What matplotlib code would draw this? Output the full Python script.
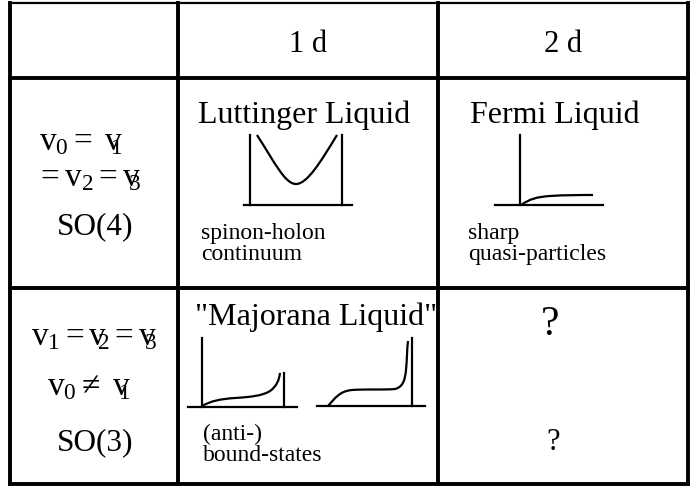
import matplotlib.pyplot as plt
from matplotlib.path import Path
from matplotlib.patches import PathPatch

plt.rcParams['font.family'] = ['Liberation Serif', 'DejaVu Serif']
plt.rcParams['mathtext.fontset'] = 'custom'
plt.rcParams['mathtext.rm'] = 'Liberation Serif'
plt.rcParams['mathtext.it'] = 'Liberation Serif:italic'

# table grid (pixel units)
col_edges = [10, 178, 438, 688]
row_edges = [3, 78, 288, 484]

col_heads = ['1 d', '2 d']
row_heads = [
    [r'$\mathrm{v}_0 = \ \mathrm{v}_{\!\!\!\!1}$', r'$= \mathrm{v}_2 = \mathrm{v}_{\!\!\!\!3}$', 'SO(4)'],
    [r'$\mathrm{v}_1 = \mathrm{v}_{\!\!\!2} = \mathrm{v}_{\!\!\!\!3}$', r'$\mathrm{v}_0 \neq\ \mathrm{v}_{\!\!\!\!1}$', 'SO(3)'],
]
cell_titles = ['Luttinger Liquid', 'Fermi Liquid', '"Majorana Liquid"', '?']
cell_notes = [['spinon-holon', 'continuum'], ['sharp', 'quasi-particles'],
              ['(anti-)', 'bound-states'], ['?']]

# sketches: axes (x0, x1, y) and curves as bezier control points
lutt_axes = [(244, 352, 205), (250, 135, 205), (342, 135, 205)]
lutt_curve = [(257, 135), (275, 163), (285, 184), (296, 184),
              (307, 184), (320, 163), (337, 135)]
fermi_axes = [(495, 603, 205), (520, 135, 205)]
fermi_curve = [(521, 205), (530, 199), (536, 197), (550, 196),
               (565, 195), (580, 195), (593, 195)]
maj1_axes = [(188, 297, 407), (202, 338, 407), (284, 373, 407)]
maj1_curve = [(202, 406), (211, 401), (220, 399), (235, 398),
              (250, 397), (262, 396), (270, 391),
              (277, 386), (279, 380), (280, 373)]
maj2_axes = [(317, 425, 406), (412, 338, 406)]
maj2_curve = [(328, 406), (335, 398), (340, 391), (352, 390),
              (365, 389), (385, 390), (395, 389),
              (403, 387), (405, 380), (406, 370),
              (407, 360), (407, 349), (408, 341)]

fig = plt.figure(figsize=(6.9, 4.87), dpi=100)
ax = fig.add_axes([0, 0, 1, 1])
ax.set_xlim(0, 690)
ax.set_ylim(487, 0)
ax.axis('off')

# grid
for x in col_edges:
    ax.plot([x, x], [row_edges[0], row_edges[-1]], 'k-', lw=2.8, solid_capstyle='projecting')
for i, y in enumerate(row_edges):
    ax.plot([col_edges[0], col_edges[-1]], [y, y], 'k-',
            lw=1.6 if i == 0 else 2.8, solid_capstyle='projecting')

# headers
ax.text(308, 45, col_heads[0], fontsize=22, ha='center', va='center')
ax.text(563, 45, col_heads[1], fontsize=22, ha='center', va='center')

# row labels
ax.text(81, 142, row_heads[0][0], fontsize=24, ha='center', va='center')
ax.text(89, 178, row_heads[0][1], fontsize=24, ha='center', va='center')
ax.text(95, 227, row_heads[0][2], fontsize=22.5, ha='center', va='center')
ax.text(94, 337, row_heads[1][0], fontsize=24, ha='center', va='center')
ax.text(89, 387, row_heads[1][1], fontsize=24, ha='center', va='center')
ax.text(95, 443, row_heads[1][2], fontsize=22.5, ha='center', va='center')

# cell titles
ax.text(304, 115, cell_titles[0], fontsize=23, ha='center', va='center')
ax.text(555, 115, cell_titles[1], fontsize=23, ha='center', va='center')
ax.text(195, 317, cell_titles[2], fontsize=23, ha='left', va='center')
ax.text(550, 325, cell_titles[3], fontsize=30, ha='center', va='center')

# notes
ax.text(201, 244, '\n'.join(cell_notes[0]), fontsize=17, ha='left', va='center', linespacing=0.95)
ax.text(468, 244, '\n'.join(cell_notes[1]), fontsize=17, ha='left', va='center', linespacing=0.95)
ax.text(203, 445, '\n'.join(cell_notes[2]), fontsize=17, ha='left', va='center', linespacing=0.95)
ax.text(553, 443, cell_notes[3][0], fontsize=22, ha='center', va='center')


def sketch(axes_lines, curve):
    # first entry horizontal baseline, rest vertical lines
    x0, x1, y = axes_lines[0]
    ax.plot([x0, x1], [y, y], 'k-', lw=1.6)
    for x, y0, y1 in axes_lines[1:]:
        ax.plot([x, x], [y0, y1], 'k-', lw=1.6)
    codes = [Path.MOVETO] + [Path.CURVE4] * (len(curve) - 1)
    ax.add_patch(PathPatch(Path(curve, codes), fill=False, lw=1.6, ec='k'))


sketch(lutt_axes, lutt_curve)
sketch(fermi_axes, fermi_curve)
sketch(maj1_axes, maj1_curve)
sketch(maj2_axes, maj2_curve)

fig.savefig('out.png', dpi=100)
